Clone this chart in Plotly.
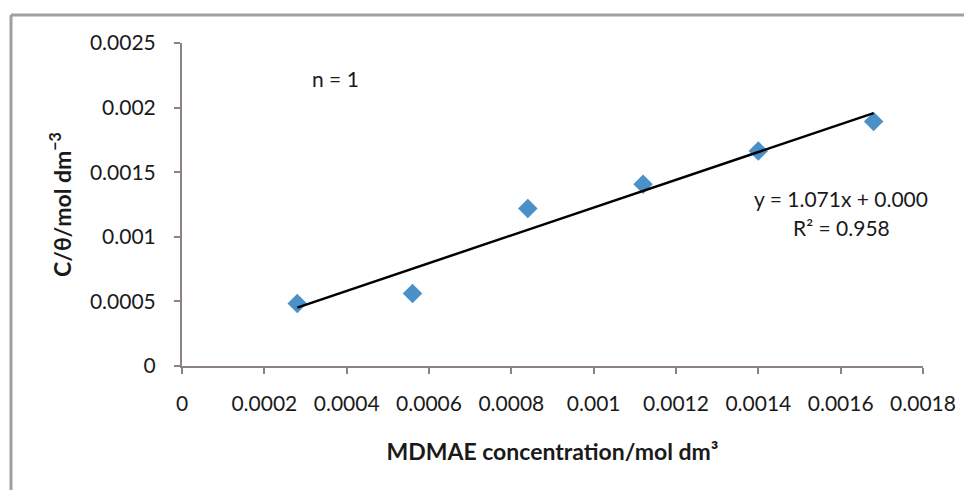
import numpy as np
import plotly.graph_objects as go

# Data
conc = [0.00028, 0.00056, 0.00084, 0.00112, 0.00140, 0.00168]
c_theta = [0.000484, 0.000562, 0.00122, 0.001406, 0.001664, 0.001893]
x_ticks = [0, 0.0002, 0.0004, 0.0006, 0.0008, 0.001, 0.0012, 0.0014, 0.0016, 0.0018]
x_ticklabels = ["0", "0.0002", "0.0004", "0.0006", "0.0008", "0.001", "0.0012", "0.0014", "0.0016", "0.0018"]
y_ticks = [0, 0.0005, 0.001, 0.0015, 0.002, 0.0025]
y_ticklabels = ["0", "0.0005", "0.001", "0.0015", "0.002", "0.0025"]
eq_text = "y = 1.071x + 0.000"
r2_text = "R² = 0.958"
n_text = "n = 1"

slope, intercept = np.polyfit(conc, c_theta, 1)
fit_x = [min(conc), max(conc)]
fit_y = [slope * v + intercept for v in fit_x]

FONT = "Lato, 'Open Sans', sans-serif"
AXIS_COLOR = "#8c8282"

# page offset of the plotly div (body margin)
OFF = 8
W, H = 972, 490
l, r, t, b = 182 - OFF, W - (923 - OFF), 43 - OFF, H - (366 - OFF)
pw, ph = W - l - r, H - t - b


def px_to_paper(px, py):
    return (px - OFF - l) / pw, (H - b - (py - OFF)) / ph


fig = go.Figure()
fig.add_trace(go.Scatter(
    x=conc, y=c_theta, mode="markers",
    marker=dict(symbol="diamond", size=15, color="#4a90c9"),
    showlegend=False,
))
fig.add_trace(go.Scatter(
    x=fit_x, y=fit_y, mode="lines",
    line=dict(color="black", width=2.5),
    showlegend=False,
))

eq_x, eq_y = px_to_paper(841, 198)
r2_x, r2_y = px_to_paper(841, 228)
n_x, n_y = px_to_paper(335, 78)
fx0, fy0 = px_to_paper(11, 15)
fx1, fy1 = px_to_paper(W + OFF, H + OFF)

ann_common = dict(xref="paper", yref="paper", showarrow=False,
                  xanchor="center", yanchor="middle", font=dict(size=21))

fig.update_layout(
    width=W, height=H,
    margin=dict(l=l, r=r, t=t, b=b),
    paper_bgcolor="white", plot_bgcolor="white",
    font=dict(family=FONT, size=21, color="#1a1a1a"),
    xaxis=dict(
        range=[0, 0.0018], tickvals=x_ticks, ticktext=x_ticklabels,
        showgrid=False, zeroline=False, showline=True, linecolor=AXIS_COLOR, linewidth=2,
        ticks="outside", ticklen=6, tickcolor=AXIS_COLOR, tickwidth=2,
        tickfont=dict(size=21), ticklabelstandoff=12,
        title=dict(text="<b>MDMAE concentration/mol dm³</b>", font=dict(size=23), standoff=30),
    ),
    yaxis=dict(
        range=[0, 0.0025], tickvals=y_ticks, ticktext=y_ticklabels,
        showgrid=False, zeroline=False, showline=True, linecolor=AXIS_COLOR, linewidth=2,
        ticks="outside", ticklen=6, tickcolor=AXIS_COLOR, tickwidth=2,
        tickfont=dict(size=21), ticklabelstandoff=14,
        title=dict(text="<b>C/θ/mol dm<sup>−3</sup></b>", font=dict(size=23), standoff=12),
    ),
    annotations=[
        dict(x=n_x, y=n_y, text=n_text, **ann_common),
        dict(x=eq_x, y=eq_y, text=eq_text, **ann_common),
        dict(x=r2_x, y=r2_y, text=r2_text, **ann_common),
    ],
    shapes=[
        dict(type="line", xref="paper", yref="paper", x0=fx0, x1=fx1, y0=fy0, y1=fy0,
             line=dict(color="#a0a0a0", width=3)),
        dict(type="line", xref="paper", yref="paper", x0=fx0, x1=fx0, y0=fy0, y1=fy1,
             line=dict(color="#a0a0a0", width=3)),
    ],
)

fig.write_html("out.html")
